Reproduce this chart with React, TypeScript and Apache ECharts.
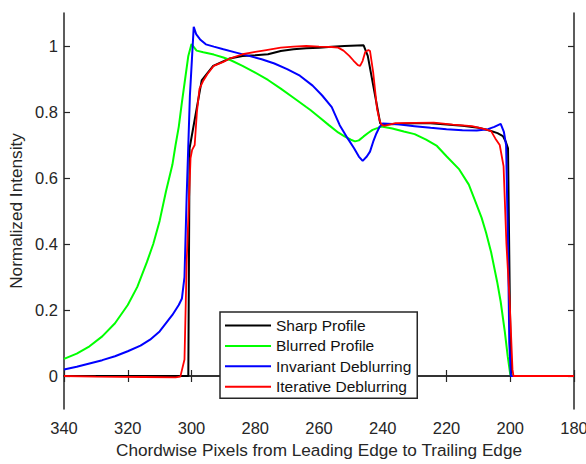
import React, { useEffect, useRef } from "react";
import * as echarts from "echarts";

// Chordwise pixel positions paired with normalized intensity, one list per profile
const sharpProfile: [number, number][] = [
  [340, 0], [320, 0], [301, 0], [300.6, 0.69], [296.8, 0.896], [293.2, 0.94], [288, 0.962],
  [284, 0.97], [280, 0.972], [276, 0.975], [272, 0.985], [268, 0.99], [264, 0.993], [260, 0.995],
  [256, 0.998], [252, 1.0], [246, 1.002], [244.7, 0.97], [240.8, 0.766], [240.3, 0.762],
  [235, 0.764], [230, 0.766], [225, 0.766], [220, 0.762], [215, 0.758], [210, 0.752],
  [206.5, 0.744], [204, 0.736], [202.3, 0.727], [201.4, 0.71], [200.7, 0.69], [200.1, 0.2],
  [199.7, 0], [190, 0], [180, 0],
];

const blurredProfile: [number, number][] = [
  [340, 0.052], [336, 0.068], [332, 0.09], [328, 0.12], [324, 0.16], [320, 0.215], [317, 0.27],
  [314, 0.345], [312, 0.4], [310, 0.47], [308, 0.56], [306, 0.64], [305, 0.7], [304, 0.755],
  [303, 0.83], [302, 0.9], [301, 0.97], [300, 1.006], [298.4, 0.986], [296.3, 0.981],
  [293, 0.974], [290, 0.965], [287.5, 0.956], [284, 0.94], [280.3, 0.921], [276, 0.897],
  [272, 0.871], [268, 0.843], [264, 0.815], [262.7, 0.806], [260, 0.785], [257, 0.761],
  [254, 0.738], [252, 0.726], [250, 0.716], [248.7, 0.711], [247.5, 0.714], [246, 0.726],
  [244.5, 0.737], [243.2, 0.746], [241.5, 0.752], [240.4, 0.756], [237, 0.75], [233.4, 0.741],
  [230, 0.733], [226.4, 0.716], [223, 0.697], [220, 0.666], [216, 0.626], [213, 0.58],
  [211.2, 0.535], [209, 0.48], [207.6, 0.435], [206, 0.375], [204.1, 0.285], [203, 0.225],
  [201.7, 0.134], [200.8, 0.06], [200, 0.005], [199, 0], [190, 0], [180, 0],
];

const invariantDeblurring: [number, number][] = [
  [340, 0.02], [336, 0.028], [332, 0.038], [328, 0.048], [324, 0.06], [320, 0.075], [316, 0.092],
  [313, 0.11], [310, 0.135], [308, 0.16], [306, 0.185], [304, 0.215], [303, 0.235], [302.2, 0.3],
  [301.5, 0.55], [300.5, 0.85], [299.3, 1.058], [298.5, 1.035], [297.3, 1.02], [295.5, 1.005],
  [293, 0.998], [290, 0.99], [286, 0.98], [282, 0.97], [278, 0.96], [274, 0.947], [270, 0.93],
  [266, 0.91], [262, 0.88], [259, 0.85], [256, 0.815], [253.5, 0.76], [251, 0.72], [249, 0.69],
  [247.5, 0.665], [246.3, 0.652], [245, 0.665], [244, 0.68], [243, 0.71], [242, 0.735],
  [241, 0.755], [240, 0.765], [237, 0.764], [234, 0.761], [230, 0.757], [225, 0.752],
  [220, 0.748], [215, 0.745], [210.5, 0.744], [207, 0.748], [205, 0.755], [203, 0.764],
  [202, 0.74], [201.3, 0.7], [200.7, 0.4], [200.3, 0.1], [199.8, 0], [190, 0], [180, 0],
];

const iterativeDeblurring: [number, number][] = [
  [340, 0], [330, -0.002], [315, -0.003], [305, -0.004], [303.5, -0.002], [302.2, 0.05],
  [301.5, 0.35], [300.3, 0.66], [299.8, 0.685], [299, 0.7], [298.3, 0.8], [297.5, 0.87],
  [296.3, 0.895], [295, 0.915], [293, 0.94], [290, 0.952], [288, 0.962], [284, 0.975],
  [280, 0.982], [277, 0.987], [272, 0.995], [268, 0.998], [264, 1.0], [260, 0.998],
  [256, 0.997], [254, 0.995], [252.3, 0.986], [250.5, 0.97], [249.2, 0.956], [247.8, 0.942],
  [247.1, 0.94], [246.3, 0.955], [245.5, 0.982], [244.5, 0.988], [244, 0.985], [243, 0.92],
  [241.8, 0.81], [241, 0.775], [240.4, 0.762], [239.5, 0.758], [238, 0.762], [236, 0.766],
  [230, 0.767], [224, 0.768], [218, 0.762], [212, 0.757], [208, 0.748], [206, 0.742],
  [204.7, 0.72], [203.3, 0.7], [202.1, 0.636], [201.2, 0.4], [200.2, 0.23], [199.3, 0.02],
  [199, 0], [190, 0], [180, 0],
];

const seriesNames = ["Sharp Profile", "Blurred Profile", "Invariant Deblurring", "Iterative Deblurring"];
const seriesColors = ["#000000", "#00ff00", "#0000ff", "#ff0000"];
const yTickValues = [0, 0.2, 0.4, 0.6, 0.8, 1];
const xMin = 180;
const xMax = 340;
const xStep = 20;

const FONT = "'Liberation Sans', Arial, Helvetica, sans-serif";
const AXIS_COLOR = "#262626";

export default function App() {
  const ref = useRef<HTMLDivElement>(null);

  useEffect(() => {
    if (!ref.current) return;
    const chart = echarts.init(ref.current, undefined, { renderer: "svg" });

    const axisLine = { show: true, lineStyle: { color: AXIS_COLOR, width: 1.5 } };
    const tickIn = { show: true, inside: true, length: 6, lineStyle: { color: AXIS_COLOR, width: 1.2 } };
    const labelStyle = { color: AXIS_COLOR, fontFamily: FONT, fontSize: 16.5 };

    const xBase = {
      type: "value" as const,
      min: xMin,
      max: xMax,
      interval: xStep,
      inverse: true,
      splitLine: { show: false },
      axisLine,
      axisTick: tickIn,
    };
    const yBase = {
      type: "value" as const,
      min: -0.1,
      max: 1.1,
      splitLine: { show: false },
      axisLine,
      axisTick: { ...tickIn, customValues: yTickValues },
    };

    const allData = [sharpProfile, blurredProfile, invariantDeblurring, iterativeDeblurring];

    chart.setOption({
      animation: false,
      backgroundColor: "#ffffff",
      grid: { left: 64, right: 12, top: 13, bottom: 55, containLabel: false, outerBoundsMode: "none" },
      xAxis: [
        {
          ...xBase,
          position: "bottom",
          axisLabel: { ...labelStyle, margin: 10 },
          name: "Chordwise Pixels from Leading Edge to Trailing Edge",
          nameLocation: "middle",
          nameGap: 32,
          nameTextStyle: { color: AXIS_COLOR, fontFamily: FONT, fontSize: 17.2 },
        },
        {
          ...xBase,
          position: "top",
          axisLabel: { show: false },
        },
      ],
      yAxis: [
        {
          ...yBase,
          position: "left",
          axisLabel: {
            ...labelStyle,
            margin: 6,
            customValues: yTickValues,
            formatter: (v: number) => String(Number(v.toFixed(1))),
          },
          name: "Normalized Intensity",
          nameLocation: "middle",
          nameGap: 33,
          nameTextStyle: { color: AXIS_COLOR, fontFamily: FONT, fontSize: 17.2 },
        },
        {
          ...yBase,
          position: "right",
          axisLabel: { show: false },
        },
      ],
      legend: {
        orient: "vertical",
        left: 220,
        top: 312,
        icon: "rect",
        itemWidth: 46,
        itemHeight: 2,
        itemGap: 3.4,
        padding: [5, 6, 3, 5],
        borderColor: AXIS_COLOR,
        borderWidth: 1.5,
        backgroundColor: "#ffffff",
        textStyle: { color: "#111111", fontFamily: FONT, fontSize: 15.5, lineHeight: 17 },
        data: seriesNames,
      },
      series: allData.map((d, i) => ({
        name: seriesNames[i],
        type: "line",
        data: d,
        xAxisIndex: 0,
        yAxisIndex: 0,
        symbol: "none",
        smooth: false,
        lineStyle: { color: seriesColors[i], width: i === 3 ? 1.8 : 2 },
        itemStyle: { color: seriesColors[i] },
        z: 2 + i,
      })),
    });

    return () => chart.dispose();
  }, []);

  return (
    <div
      ref={ref}
      style={{ position: "fixed", left: 0, top: 0, width: 586, height: 464, background: "#fff" }}
    />
  );
}
